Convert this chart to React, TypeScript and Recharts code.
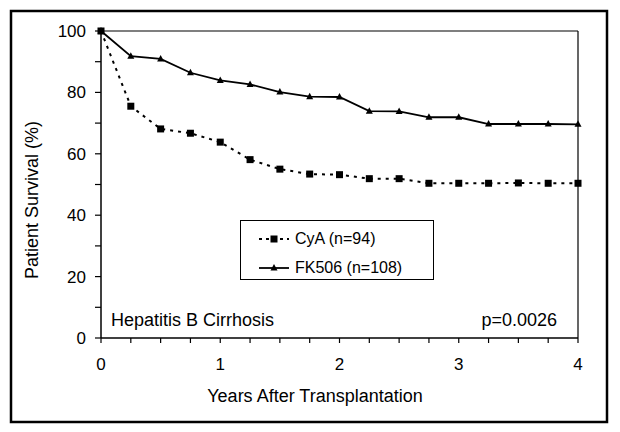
import React from 'react';
import { LineChart, Line, XAxis, YAxis, ReferenceLine, Legend, Customized } from 'recharts';

const years = [0, 0.25, 0.5, 0.75, 1, 1.25, 1.5, 1.75, 2, 2.25, 2.5, 2.75, 3, 3.25, 3.5, 3.75, 4];
const cyaSurvival = [100, 75.5, 68.1, 66.7, 63.8, 58.1, 55.0, 53.4, 53.2, 51.9, 51.9, 50.4, 50.4, 50.4, 50.5, 50.4, 50.4];
const fk506Survival = [100, 91.8, 90.9, 86.4, 83.9, 82.6, 80.1, 78.6, 78.5, 73.9, 73.8, 71.9, 71.9, 69.7, 69.7, 69.7, 69.6];
const yTicks = [0, 10, 20, 30, 40, 50, 60, 70, 80, 90, 100];
const yTickLabels = [0, 20, 40, 60, 80, 100];
const xTicks = years;
const xTickLabels = [0, 1, 2, 3, 4];
const seriesNames = ['CyA (n=94)', 'FK506 (n=108)'];
const chartTitle = 'Hepatitis B Cirrhosis';
const pValue = 'p=0.0026';
const xTitle = 'Years After Transplantation';
const yTitle = 'Patient Survival (%)';

const data = years.map((t, i) => ({ t, cya: cyaSurvival[i], fk: fk506Survival[i] }));

const FONT = '"Liberation Sans", Arial, Helvetica, sans-serif';

const SquareDot = (props: any) => {
  const { cx, cy } = props;
  if (cx == null || cy == null) return null;
  return <rect x={cx - 3.5} y={cy - 3.5} width={7} height={7} fill="#000" />;
};

const TriDot = (props: any) => {
  const { cx, cy } = props;
  if (cx == null || cy == null) return null;
  return <polygon points={`${cx},${cy - 4} ${cx - 3.5},${cy + 2.5} ${cx + 3.5},${cy + 2.5}`} fill="#000" />;
};

const YTick = (props: any) => {
  const { x, y, payload } = props;
  if (!yTickLabels.includes(payload.value)) return null;
  return (
    <text x={x} y={y} dy="0.35em" textAnchor="end" fontSize={17} fontFamily={FONT} fill="#000">
      {payload.value}
    </text>
  );
};

const XTick = (props: any) => {
  const { x, y, payload } = props;
  if (!xTickLabels.includes(payload.value)) return null;
  return (
    <text x={x} y={y} dy="0.71em" textAnchor="middle" fontSize={17} fontFamily={FONT} fill="#000">
      {payload.value}
    </text>
  );
};

const LegendBox = () => (
  <div
    style={{
      position: 'relative',
      width: 194,
      height: 60,
      border: '1.5px solid #000',
      boxSizing: 'border-box',
      background: '#fff',
      fontFamily: FONT,
      fontSize: 16,
      color: '#000',
    }}
  >
    <svg width={40} height={60} style={{ position: 'absolute', left: 16, top: 0 }}>
      <line x1={2} y1={18} x2={32} y2={18} stroke="#000" strokeWidth={2} strokeDasharray="3 4" />
      <rect x={13.5} y={14.5} width={7} height={7} fill="#000" />
      <line x1={2} y1={47} x2={32} y2={47} stroke="#000" strokeWidth={1.8} />
      <polygon points="17,43 13.5,49.5 20.5,49.5" fill="#000" />
    </svg>
    <div style={{ position: 'absolute', left: 54, top: 8, lineHeight: '20px', whiteSpace: 'nowrap' }}>{seriesNames[0]}</div>
    <div style={{ position: 'absolute', left: 54, top: 37, lineHeight: '20px', whiteSpace: 'nowrap' }}>{seriesNames[1]}</div>
  </div>
);

const Decorations = () => (
  <g>
    <rect x={11} y={11} width={596} height={411} fill="none" stroke="#000" strokeWidth={2.5} />
    <text x={111} y={326} fontSize={18} fontFamily={FONT} fill="#000">{chartTitle}</text>
    <text x={557} y={326} fontSize={18} fontFamily={FONT} fill="#000" textAnchor="end">{pValue}</text>
    <text x={315} y={402} fontSize={18} fontFamily={FONT} fill="#000" textAnchor="middle">{xTitle}</text>
    <text
      x={32}
      y={200}
      fontSize={18}
      fontFamily={FONT}
      fill="#000"
      textAnchor="middle"
      dominantBaseline="central"
      transform="rotate(-90 32 200)"
    >
      {yTitle}
    </text>
  </g>
);

export default function App() {
  return (
    <div style={{ position: 'absolute', left: 0, top: 0, background: '#fff' }}>
      <LineChart width={620} height={432} data={data} margin={{ top: 31, right: 42, left: 0, bottom: 0 }}>
        <XAxis
          dataKey="t"
          type="number"
          domain={[0, 4]}
          ticks={xTicks}
          interval={0}
          height={94}
          tickSize={5}
          tickMargin={15}
          tick={<XTick />}
          axisLine={{ stroke: '#000', strokeWidth: 1.5 }}
          tickLine={{ stroke: '#000', strokeWidth: 1.2 }}
        />
        <YAxis
          type="number"
          domain={[0, 100]}
          ticks={yTicks}
          interval={0}
          width={101}
          tickSize={6}
          tickMargin={9}
          tick={<YTick />}
          axisLine={{ stroke: '#000', strokeWidth: 1.5 }}
          tickLine={{ stroke: '#000', strokeWidth: 1.2 }}
        />
        <ReferenceLine y={100} stroke="#000" strokeWidth={1.2} />
        <ReferenceLine x={4} stroke="#000" strokeWidth={1.2} />
        <Line
          dataKey="cya"
          name={seriesNames[0]}
          stroke="#000"
          strokeWidth={2}
          strokeDasharray="3 5"
          dot={<SquareDot />}
          activeDot={false}
          isAnimationActive={false}
        />
        <Line
          dataKey="fk"
          name={seriesNames[1]}
          stroke="#000"
          strokeWidth={1.8}
          dot={<TriDot />}
          activeDot={false}
          isAnimationActive={false}
        />
        <Legend
          layout="horizontal"
          verticalAlign="middle"
          align="center"
          content={<LegendBox />}
          wrapperStyle={{ left: 240, top: 220, width: 194, height: 60 }}
        />
        <Customized component={<Decorations />} />
      </LineChart>
    </div>
  );
}
